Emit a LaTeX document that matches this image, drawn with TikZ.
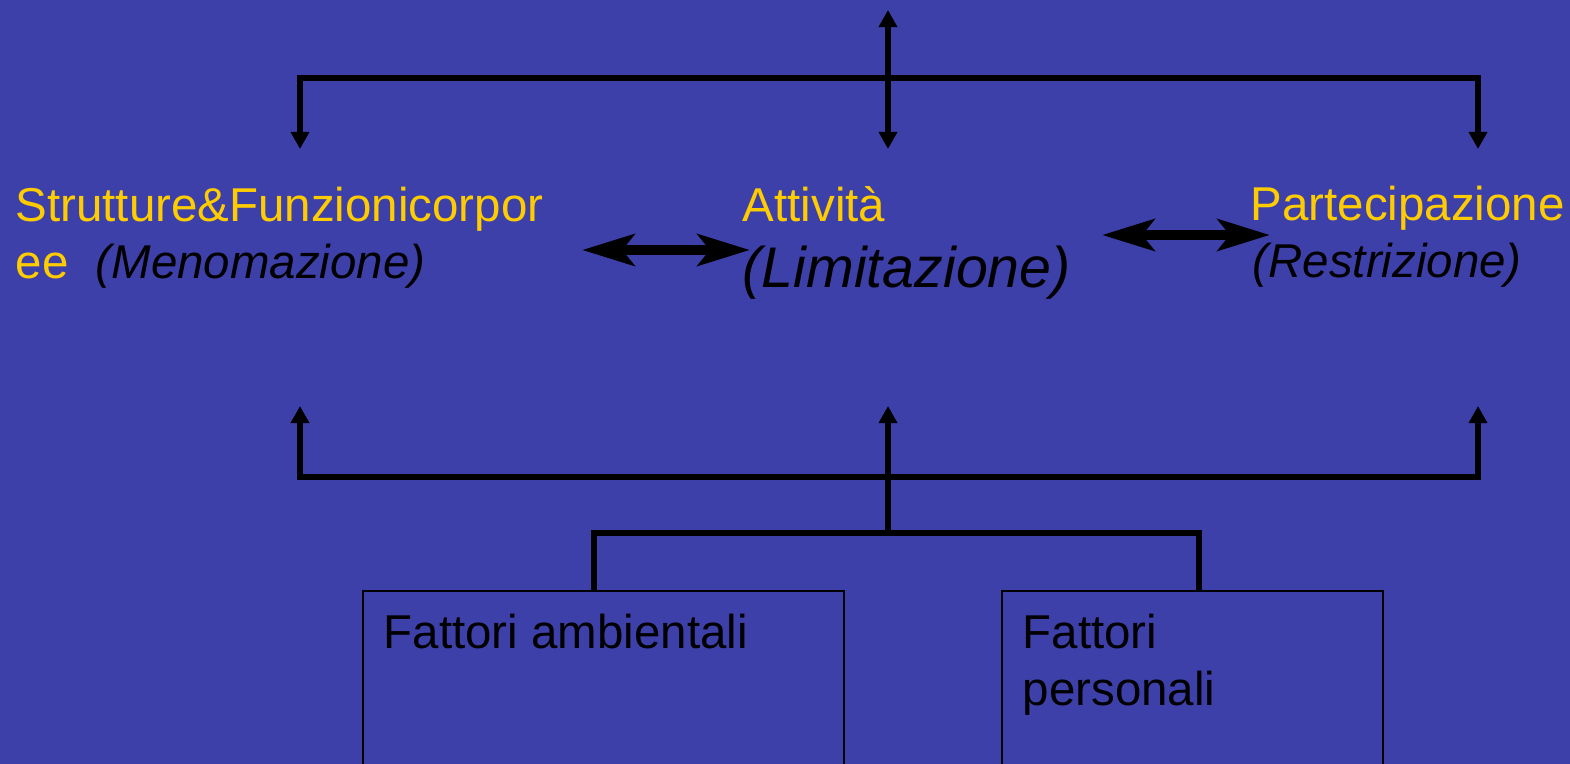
\documentclass[tikz,border=0pt]{standalone}
\usepackage{fontspec}
\setmainfont{Liberation Sans}
\usetikzlibrary{arrows.meta}
\definecolor{slideblue}{RGB}{62,64,170}
\definecolor{slideyellow}{RGB}{255,204,0}

\begin{document}
\begin{tikzpicture}[x=0.01cm,y=-0.01cm,
  title/.style={anchor=base west,inner sep=0pt,text=slideyellow,font=\fontsize{13.5}{16.2}\selectfont},
  note/.style={anchor=base west,inner sep=0pt,text=black,font=\fontsize{13.5}{16.2}\selectfont\itshape},
  link/.style={line width=1.85pt,black},
  tip/.style={-{Triangle[length=4.9pt,width=5.1pt]}},
  both/.style={{Triangle[length=4.9pt,width=5.1pt]}-{Triangle[length=4.9pt,width=5.1pt]}},
  swap/.style={line width=2.85pt,{Stealth[length=14.8pt,width=8.9pt,inset=3.4pt]}-{Stealth[length=14.8pt,width=8.9pt,inset=3.4pt]}},
  factor/.style={draw,line width=0.6pt,anchor=north west,inner sep=0pt,minimum height=2cm},
  factortext/.style={anchor=north west,inner sep=0pt,align=left,font=\fontsize{13.5}{16.2}\selectfont}]

\useasboundingbox (0,0) rectangle (1570,764);
\clip (0,0) rectangle (1570,764);
\fill[slideblue] (0,0) rectangle (1570,764);

% titles
\node[title] (corpo) at (15,222) {Strutture\&Funzionicorpor};
\node[title] (corpo2) at (15,279) {ee};
\node[note] (meno) at (95,279) {(Menomazione)};
\node[title] (att) at (742,222) {Attività};
\node[note,font=\fontsize{16.3}{19.5}\selectfont\itshape] (limit) at (742,288) {(Limitazione)};
\node[title] (part) at (1250,221) {Partecipazione};
\node[note] (restr) at (1252,278) {(Restrizione)};

% boxes
\node[factor,minimum width=4.81cm] (amb) at (362,590) {};
\node[factor,minimum width=3.81cm] (pers) at (1001,590) {};
\node[factortext] (ambtxt) at (383,613) {Fattori ambientali};
\node[factortext] (perstxt) at (1022,613) {Fattori\\personali};

% points
\coordinate (top) at (888,10);
\coordinate (ltop) at (300,78);
\coordinate (rtop) at (1478,78);
\coordinate (ldown) at (300,149);
\coordinate (mdown) at (888,149);
\coordinate (rdown) at (1478,149);
\coordinate (lup) at (300,406);
\coordinate (mup) at (888,406);
\coordinate (rup) at (1478,406);
\coordinate (lbot) at (300,477);
\coordinate (rbot) at (1478,477);
\coordinate (fork) at (888,533);
\coordinate (lfork) at (594,533);
\coordinate (rfork) at (1199,533);
\coordinate (s1) at (582,250);
\coordinate (s2) at (750,250);
\coordinate (s3) at (1102,235);
\coordinate (s4) at (1270,235);

\draw[link,both] (ldown) -- (ltop) -- (rtop) -- (rdown);
\draw[link,both] (top) -- (mdown);

\draw[link,both] (lup) -- (lbot) -- (rbot) -- (rup);
\draw[link,tip] (fork) -- (mup);
\draw[link] (amb.north -| lfork) -- (lfork) -- (rfork) -- (pers.north -| rfork);

\draw[swap] (s1) -- (s2);
\draw[swap] (s3) -- (s4);

\end{tikzpicture}
\end{document}
